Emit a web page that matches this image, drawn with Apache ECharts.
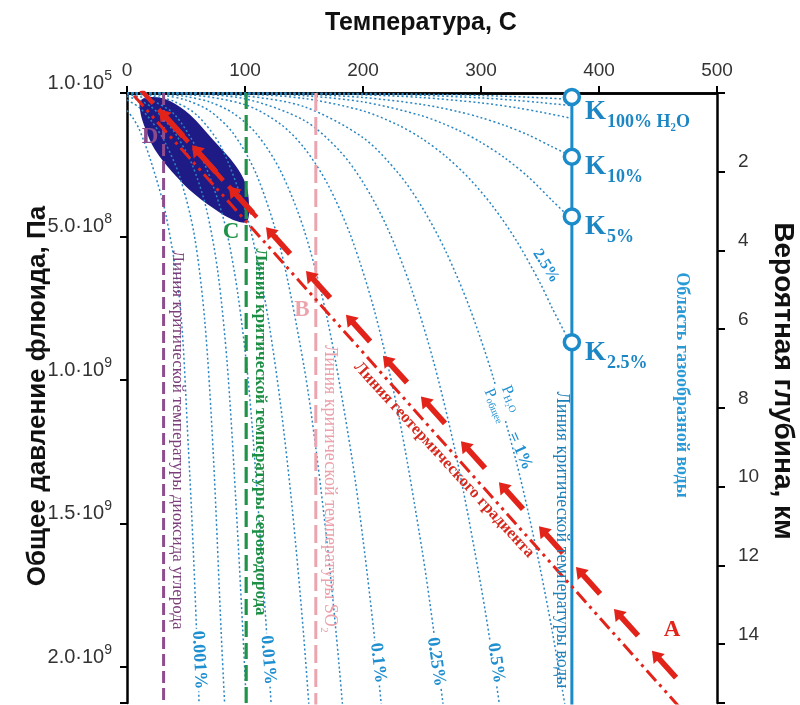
<!DOCTYPE html>
<html>
<head>
<meta charset="utf-8">
<script src="https://cdn.jsdelivr.net/npm/echarts@6/dist/echarts.min.js"></script>
<style>
  html, body { margin: 0; padding: 0; background: #fff; }
  #chart { width: 800px; height: 705px; }
</style>
</head>
<body>
<div id="chart"></div>
<script>
// temperature, C  /  pressure in GPa (1 GPa = 1e9 Pa)
const tempTicks = [0, 100, 200, 300, 400, 500];
const pressureTicks = [0, 0.5, 1, 1.5, 2];
const pressureMant = ['1.0', '5.0', '1.0', '1.5', '2.0'];
const pressureExp = ['5', '8', '9', '9', '9'];
const depthTicks = [2, 4, 6, 8, 10, 12, 14];

// isopleths P(H2O)/P(total): [T, P]
const curve100 = [[0, 0], [100, 0.0001], [200, 0.0016], [250, 0.004], [300, 0.0086], [340, 0.0146], [377, 0.0221]];
const curve50 = [[0, 0], [100, 0.0002], [200, 0.0031], [250, 0.008], [300, 0.0172], [330, 0.0257], [350, 0.0331], [377, 0.0441]];
const curve25 = [[0, 0], [100, 0.0004], [150, 0.0019], [200, 0.0062], [250, 0.0159], [300, 0.0344], [330, 0.0514], [350, 0.0661], [377, 0.0883]];
const curve10 = [[0, 0], [100, 0.001], [150, 0.0048], [200, 0.0155], [250, 0.0398], [280, 0.0642], [300, 0.0859], [320, 0.1128], [340, 0.146], [360, 0.1867], [377, 0.2206]];
const curve5 = [[0, 0], [100, 0.002], [150, 0.0095], [200, 0.0311], [250, 0.0795], [280, 0.1283], [300, 0.1718], [320, 0.2257], [340, 0.292], [360, 0.3733], [377, 0.4413]];
const curve2_5 = [[0, 0], [100, 0.0041], [150, 0.019], [200, 0.0622], [230, 0.1119], [250, 0.159], [270, 0.2201], [290, 0.2977], [310, 0.3946], [330, 0.5143], [350, 0.6612], [360, 0.7466], [377, 0.8826]];
const curve1 = [[0, 0.0001], [50, 0.0012], [100, 0.0101], [150, 0.0476], [200, 0.1555], [230, 0.2797], [250, 0.3976], [270, 0.5503], [290, 0.7442], [310, 0.9865], [330, 1.2858], [340, 1.4601], [350, 1.6529], [360, 1.8666], [370, 2.1044], [374, 2.2064]];
const curve0_5 = [[0, 0.0001], [50, 0.0025], [100, 0.0203], [150, 0.0952], [180, 0.2006], [200, 0.311], [220, 0.4639], [240, 0.6694], [260, 0.9385], [280, 1.2833], [300, 1.7176], [310, 1.973], [320, 2.2568]];
const curve0_25 = [[0, 0.0002], [50, 0.0049], [100, 0.0406], [130, 0.1081], [150, 0.1905], [170, 0.3169], [190, 0.5021], [210, 0.7631], [230, 1.1188], [250, 1.5905], [260, 1.8769], [270, 2.2012]];
const curve0_1 = [[0, 0.0006], [30, 0.0043], [50, 0.0124], [70, 0.0312], [90, 0.0702], [110, 0.1434], [130, 0.2703], [150, 0.4762], [170, 0.7922], [190, 1.2552], [200, 1.5549], [210, 1.9077], [220, 2.3196]];
const curve0_05 = [[0, 0.0012], [30, 0.0085], [50, 0.0247], [70, 0.0624], [90, 0.1404], [110, 0.2868], [130, 0.5406], [150, 0.9524], [160, 1.2364], [170, 1.5844], [180, 2.0056], [190, 2.5104]];
const curve0_025 = [[0, 0.0024], [20, 0.0094], [40, 0.0295], [60, 0.0798], [80, 0.1896], [100, 0.4056], [110, 0.5736], [120, 0.7948], [130, 1.0812], [140, 1.446], [150, 1.9048], [160, 2.4728]];
const curve0_01 = [[0, 0.0061], [10, 0.0123], [20, 0.0234], [40, 0.0738], [60, 0.1995], [72, 0.312], [84, 0.474], [94, 0.702], [103, 1.014], [111, 1.434], [120, 1.987], [125, 2.321]];
const curve0_005 = [[0, 0.0122], [10, 0.0246], [20, 0.0468], [30, 0.085], [42, 0.1476], [55, 0.247], [67, 0.399], [77, 0.624], [85, 0.948], [92, 1.404], [100, 2.028], [104, 2.418]];
const curve0_0025 = [[0, 0.0244], [10, 0.0492], [20, 0.0936], [32, 0.17], [45, 0.2952], [57, 0.494], [66, 0.798], [73, 1.248], [80, 1.896], [85, 2.312]];
const curve0_001 = [[0, 0.0611], [5, 0.0872], [10, 0.123], [20, 0.234], [33, 0.425], [45, 0.738], [52, 1.235], [56, 1.575], [60, 1.995], [64, 2.503]];

// critical temperatures (vertical lines)
const critCO2 = 31;
const critH2S = 101;
const critSO2 = 160;
const critH2O = 377;

// critical points K on the water line
const kPoints = [[377, 0.014], [377, 0.222], [377, 0.43], [377, 0.868]];

// geothermal gradient lines
const gradArrowLine = [[12, -0.01], [110, 0.433]];
const gradArrows = [[37.3, 0.104], [65.3, 0.229], [96.6, 0.372], [128, 0.514], [161.9, 0.667], [195.8, 0.819],
  [227.1, 0.962], [259.3, 1.104], [293.2, 1.26], [325.4, 1.403], [359.3, 1.556], [390.7, 1.698], [422.9, 1.844], [455.1, 1.99]];
const gradDashDot = [[6, 0.01], [490, 2.24]];

// field of the fluid (dark ellipse), outline [T, P]
const fieldOutline = [[11.9, 0.024], [22, 0.014], [36.4, 0.028], [53.4, 0.076], [72.9, 0.163], [91.5, 0.25], [100.8, 0.319],
  [103.4, 0.389], [101.7, 0.448], [94, 0.448], [78.8, 0.417], [57.6, 0.354], [38.1, 0.274], [23.7, 0.198], [15.3, 0.122], [11, 0.059]];

const chart = echarts.init(document.getElementById('chart'));

const curveColor = '#2a86c2';
const waterBlue = '#1b8bca';
const red = '#e2231a';
const serif = '"Liberation Serif", "DejaVu Serif", serif';
const sans = '"Liberation Sans", Arial, sans-serif';

const curves = [curve100, curve50, curve25, curve10, curve5, curve2_5, curve1, curve0_5, curve0_25,
  curve0_1, curve0_05, curve0_025, curve0_01, curve0_005, curve0_0025, curve0_001];

const curveSeries = curves.map((c) => ({
  type: 'line',
  data: c,
  showSymbol: false,
  smooth: 0.3,
  silent: true,
  z: 3,
  lineStyle: { color: curveColor, width: 1.5, type: [2, 2.5] },
}));

function vline(t, color, type, width) {
  return {
    type: 'line',
    data: [[t, 0], [t, 2.2]],
    showSymbol: false,
    silent: true,
    z: 4,
    lineStyle: { color: color, width: width, type: type },
  };
}

// rotated text helper (rotation in radians, ccw positive)
function label(text, x, y, rot, font, fill, bg) {
  const style = { text: text, font: font, fill: fill, align: 'center', verticalAlign: 'middle' };
  if (bg) { style.backgroundColor = '#fff'; style.padding = [1, 2]; }
  return { type: 'text', x: x, y: y, rotation: rot, z: 20, style: style };
}

function pctLabel(text, x, y, rot) {
  return label(text, x, y, rot, 'bold 18px ' + serif, '#1f8fd0', true);
}

function kLabel(sub, x, y) {
  return {
    type: 'text',
    x: x,
    y: y,
    z: 20,
    style: {
      text: '{k|K}{s|' + sub + '}',
      verticalAlign: 'middle',
      rich: {
        k: { font: 'bold 27px ' + serif, fill: '#1c86c4', lineHeight: 30, verticalAlign: 'bottom', padding: [0, 0, 5, 0] },
        s: { font: 'bold 18px ' + serif, fill: '#1c86c4', lineHeight: 16, verticalAlign: 'bottom', padding: [0, 0, 0, 1] },
      },
    },
  };
}

const option = {
  animation: false,
  backgroundColor: '#fff',
  grid: { left: 127, right: 83, top: 93, bottom: 2, containLabel: false },
  xAxis: [
    {
      type: 'value',
      position: 'top',
      min: 0,
      max: 500,
      interval: 100,
      axisLine: { lineStyle: { color: '#000', width: 2.5 } },
      axisTick: { length: 7, lineStyle: { color: '#000', width: 2 } },
      axisLabel: { fontFamily: sans, fontSize: 19, color: '#333', margin: 13 },
      splitLine: { show: false },
    },
    {
      type: 'value',
      position: 'bottom',
      min: 0,
      max: 500,
      axisLine: { lineStyle: { color: '#000', width: 2.5 } },
      axisTick: { show: false },
      axisLabel: { show: false },
      splitLine: { show: false },
    },
  ],
  yAxis: [
    {
      type: 'value',
      position: 'left',
      inverse: true,
      min: 0,
      max: 2.125,
      interval: 0.5,
      axisLine: { onZero: false, lineStyle: { color: '#000', width: 2.5 } },
      axisTick: { length: 7, lineStyle: { color: '#000', width: 2 } },
      axisLabel: {
        margin: 15,
        verticalAlign: 'bottom',
        formatter: function (v) {
          const i = pressureTicks.indexOf(v);
          if (i < 0) return '';
          return '{m|' + pressureMant[i] + '·10}{e|' + pressureExp[i] + '}';
        },
        rich: {
          m: { fontFamily: sans, fontSize: 20, color: '#333', lineHeight: 18, verticalAlign: 'bottom' },
          e: { fontFamily: sans, fontSize: 14, color: '#333', lineHeight: 14, verticalAlign: 'bottom', padding: [0, 0, 10, 0] },
        },
      },
      splitLine: { show: false },
    },
    {
      type: 'value',
      position: 'right',
      inverse: true,
      min: 0,
      max: 15.5,
      interval: 2,
      axisLine: { onZero: false, lineStyle: { color: '#000', width: 2.5 } },
      axisTick: { length: 8, lineStyle: { color: '#000', width: 2 } },
      axisLabel: {
        margin: 21,
        verticalAlign: 'bottom',
        fontFamily: sans,
        fontSize: 19,
        color: '#333',
        formatter: function (v) { return depthTicks.indexOf(v) >= 0 ? String(v) : ''; },
      },
      splitLine: { show: false },
    },
  ],
  series: [
    {
      type: 'custom',
      coordinateSystem: 'cartesian2d',
      data: [[0, 0]],
      silent: true,
      z: 2,
      renderItem: function (params, api) {
        const pts = fieldOutline.map((p) => api.coord(p));
        return { type: 'polygon', shape: { points: pts, smooth: 0.35 }, style: { fill: '#1f1b86' } };
      },
    },
    ...curveSeries,
    vline(critCO2, '#8e4d8e', [12, 5], 3),
    vline(critH2S, '#1f9448', [16, 6], 3.2),
    vline(critSO2, '#eca5ae', [18, 6], 3),
    vline(critH2O, waterBlue, 'solid', 3),
    {
      type: 'line',
      data: gradDashDot,
      showSymbol: false,
      silent: true,
      z: 6,
      lineStyle: { color: red, width: 3, type: [14, 5, 3, 5, 3, 5] },
    },
    {
      type: 'line',
      data: gradArrowLine,
      showSymbol: false,
      silent: true,
      z: 6,
      lineStyle: { color: red, width: 4.5, type: [18, 8] },
    },
    {
      type: 'scatter',
      data: gradArrows,
      silent: true,
      z: 7,
      symbol: 'path://M5,0L10,9L6.9,9L6.9,30L3.1,30L3.1,9L0,9Z',
      symbolSize: [15, 36],
      symbolRotate: 42,
      itemStyle: { color: red, opacity: 1 },
    },
    {
      type: 'scatter',
      data: kPoints,
      silent: true,
      z: 10,
      symbol: 'circle',
      symbolSize: 15,
      itemStyle: { color: '#fff', borderColor: waterBlue, borderWidth: 3.5, opacity: 1 },
    },
  ],
  graphic: [
    // axis titles
    label('Температура, С', 421, 23, 0, 'bold 25px ' + sans, '#111'),
    label('Общее давление флюида, Па', 38, 396, Math.PI / 2, 'bold 26px ' + sans, '#111'),
    label('Вероятная глубина, км', 783, 381, -Math.PI / 2, 'bold 28px ' + sans, '#111'),
    kLabel('100% H₂O', 585, 116),
    kLabel('10%', 585, 171),
    kLabel('5%', 585, 231),
    kLabel('2.5%', 585, 357),
    label('D', 150, 137, 0, 'bold 23px ' + serif, '#8b4a8b'),
    label('C', 231, 232, 0, 'bold 23px ' + serif, '#1f9448'),
    label('B', 302, 310, 0, 'bold 23px ' + serif, '#eca5ae'),
    label('A', 672, 630, 0, 'bold 23px ' + serif, '#e2231a'),
    label('Линия критической температуры диоксида углерода', 177, 440, -Math.PI / 2, '17px ' + serif, '#7b3f7b'),
    label('Линия критической температуры сероводорода', 260, 432, -Math.PI / 2, 'bold 17px ' + serif, '#1d8f45'),
    label('Линия критической температуры SO₂', 330, 489, -Math.PI / 2, '18px ' + serif, '#eba0aa'),
    label('Линия критической температуры воды', 562, 540, -Math.PI / 2, '18px ' + serif, '#1b7fb8'),
    label('Область газообразной воды', 682, 385, -Math.PI / 2, 'bold 18px ' + serif, '#2a9ad6'),
    label('Линия геотермического градиента', 444, 460, -0.83, 'bold 16.5px ' + serif, '#d42a1f'),
    label('2.5%', 546, 266, -1.0, 'bold 16px ' + serif, '#1f8fd0', true),
    {
      type: 'text', x: 503, y: 402, rotation: -1.15, z: 20,
      style: {
        text: '{p|P}{s|H₂O}\n{p|P}{s|общее}',
        align: 'center', verticalAlign: 'middle', backgroundColor: '#fff',
        rich: {
          p: { font: '16px ' + serif, fill: '#1f8fd0', lineHeight: 17 },
          s: { font: '10px ' + serif, fill: '#1f8fd0', lineHeight: 10, verticalAlign: 'bottom' },
        },
      },
    },
    label('= 1%', 520, 451, -1.15, 'bold 17px ' + serif, '#1f8fd0'),
    pctLabel('0.001%', 199, 660, -Math.PI / 2 + 0.05),
    pctLabel('0.01%', 268, 660, -Math.PI / 2 + 0.08),
    pctLabel('0.1%', 378, 663, -Math.PI / 2 + 0.12),
    pctLabel('0.25%', 436, 662, -Math.PI / 2 + 0.15),
    pctLabel('0.5%', 496, 663, -Math.PI / 2 + 0.15),
  ],
};

chart.setOption(option);
</script>
</body>
</html>
